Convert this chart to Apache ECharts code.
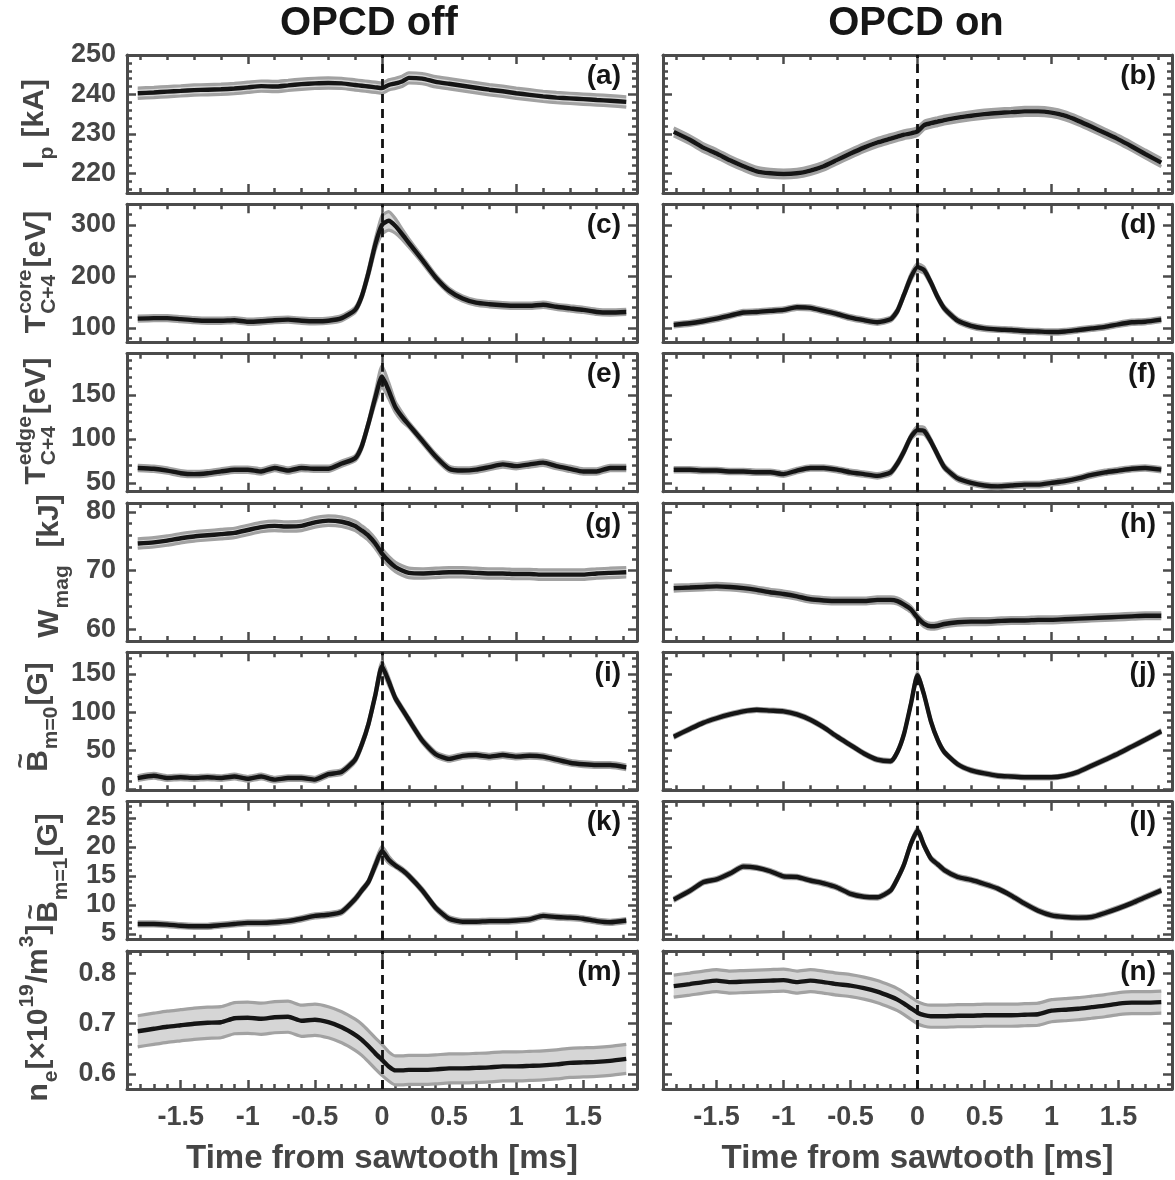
<!DOCTYPE html>
<html><head><meta charset="utf-8">
<script src="https://cdn.jsdelivr.net/npm/echarts@6/dist/echarts.min.js"></script>
<style>html,body{margin:0;padding:0;background:#fff}#c{width:1175px;height:1180px}</style>
</head><body><div id="c"></div>
<script>
// ---------------- DATA ----------------
const time = [-1.82,-1.7,-1.6,-1.5,-1.4,-1.3,-1.2,-1.1,-1.0,-0.9,-0.8,-0.7,-0.6,-0.5,-0.4,-0.3,-0.2,-0.15,-0.1,-0.05,0,0.05,0.1,0.15,0.2,0.3,0.4,0.5,0.6,0.7,0.8,0.9,1.0,1.1,1.2,1.3,1.4,1.5,1.6,1.7,1.82];

const ipOff = [240.3,240.5,240.7,240.9,241.1,241.2,241.3,241.5,241.8,242.1, 242.0,242.3,242.6,242.8,242.9,242.8,242.4,242.2,242.0,241.8, 241.6, 242.4,242.8,243.3, 244.2,244.0,243.2,242.7,242.2,241.7,241.2,240.8,240.3,239.9,239.5,239.2,239.0,238.8,238.6,238.4,238.1];
const ipOn = [230.5,228.5,226.5,225.0,223.3,221.8,220.5,220.0,219.8,220.0, 220.7,221.8,223.4,225.0,226.5,227.8,228.8,229.3,229.8,230.1, 230.6, 232.2,232.7,233.1, 233.5,234.1,234.6,235.0,235.3,235.5,235.7,235.7,235.4,234.6,233.3,231.8,230.2,228.6,226.8,224.9,222.7];
const tCoreOff = [118,119,119,117,115,114,114,115,112,113, 115,116,114,113,114,119,135,162,208,262, 300, 308,298,282, 265,232,198,172,157,149,146,144,143,143,145,141,138,135,131,130,131];
const tCoreOn = [106,109,113,118,124,130,131,133,135,140, 139,133,127,120,115,111,117,133,165,198, 218, 212,188,160, 138,114,104,99,97,96,94,93,92,93,96,99,102,107,111,112,116];
const tEdgeOff = [67,66,64,61,60,61,63,65,65,63, 67,64,67,66,66,72,78,92,118,147, 171, 155,136,125, 116,98,80,66,64,65,68,71,69,71,73,69,66,63,63,67,67];
const tEdgeOn = [65,65,64,64,63,63,62,62,60,64, 67,67,65,62,60,58,62,72,86,102, 110, 109,97,82, 68,55,50,47,46,47,48,48,50,52,55,59,62,64,66,67,65];
const wMagOff = [74.6,74.8,75.1,75.5,75.8,76.0,76.2,76.4,76.9,77.4, 77.6,77.5,77.6,78.2,78.5,78.3,77.6,76.8,75.9,74.6, 72.9, 71.6,70.6,70.0, 69.6,69.5,69.6,69.7,69.7,69.6,69.5,69.5,69.4,69.4,69.3,69.3,69.3,69.3,69.5,69.6,69.7];
const wMagOn = [67.0,67.1,67.2,67.3,67.2,67.0,66.7,66.3,66.0,65.6, 65.1,64.9,64.8,64.8,64.8,65.0,65.0,64.8,64.2,63.4, 62.0, 60.9,60.5,60.6, 60.9,61.2,61.3,61.3,61.4,61.5,61.5,61.6,61.6,61.7,61.8,61.9,62.0,62.1,62.2,62.3,62.3];
const bM0Off = [14,17,14,15,14,15,14,16,13,16, 12,14,14,12,19,22,38,58,85,122, 160, 140,118,104, 90,63,45,39,43,44,42,44,42,43,42,38,34,32,31,31,28];
const bM0On = [68,78,86,92,97,101,103,102,101,97, 90,80,68,57,46,38,36,48,72,110, 148, 122,88,64, 48,32,24,20,17,16,15,15,15,17,22,30,38,46,55,64,75];
const bM1Off = [6.7,6.7,6.6,6.4,6.3,6.3,6.5,6.7,6.9,6.9, 7.0,7.2,7.6,8.1,8.3,8.8,11.0,12.5,14.0,16.8, 19.3, 17.8,16.8,16.0, 15.0,12.5,9.5,7.6,7.1,7.1,7.2,7.2,7.3,7.5,8.1,7.9,7.8,7.6,7.2,7.0,7.3];
const bM1On = [10.9,12.4,13.9,14.4,15.4,16.6,16.4,15.8,14.9,14.8, 14.2,13.7,13.0,11.9,11.4,11.3,12.5,14.5,17.0,20.5, 22.8, 20.2,18.0,17.0, 16.0,14.8,14.3,13.6,12.8,11.6,10.2,9.0,8.2,7.9,7.8,7.9,8.6,9.4,10.3,11.3,12.5];
const neOff = [0.685,0.690,0.694,0.697,0.700,0.702,0.703,0.711,0.712,0.710, 0.713,0.714,0.706,0.708,0.703,0.693,0.678,0.668,0.655,0.641, 0.628, 0.615,0.607,0.607, 0.608,0.608,0.609,0.611,0.611,0.612,0.613,0.615,0.615,0.616,0.617,0.619,0.622,0.623,0.624,0.626,0.630];
const neOn = [0.775,0.779,0.783,0.786,0.783,0.784,0.785,0.786,0.787,0.783, 0.786,0.783,0.779,0.776,0.771,0.764,0.754,0.748,0.740,0.731, 0.722, 0.717,0.715,0.715, 0.715,0.716,0.716,0.717,0.717,0.717,0.718,0.719,0.726,0.728,0.730,0.733,0.736,0.740,0.742,0.742,0.743];

// error half-widths
const errIpOff = [1.3,1.3,1.3,1.3,1.3,1.3,1.3,1.3,1.3,1.3, 1.3,1.3,1.3,1.3,1.3,1.3,1.3,1.3,1.3,1.3, 1.3, 1.3,1.3,1.3, 1.3,1.3,1.3,1.3,1.3,1.3,1.3,1.3,1.3,1.3,1.3,1.3,1.3,1.3,1.3,1.3,1.3];
const errIpOn = [1.0,1.0,1.0,1.0,1.0,1.0,1.0,1.0,1.0,1.0, 1.0,1.0,1.0,1.0,1.0,1.0,1.0,1.0,1.0,1.0, 1.0, 1.0,1.0,1.0, 1.0,1.0,1.0,1.0,1.0,1.0,1.0,1.0,1.0,1.0,1.0,1.0,1.0,1.0,1.0,1.0,1.0];
const errTCoreOff = [5,5,5,5,5,5,5,5,5,5, 5,5,5,5,5,5,5,5,7,10, 18, 18,14,10, 8,6,5,5,5,5,5,5,5,5,5,5,5,5,5,5,5];
const errTCoreOn = [4,4,4,4,4,4,4,4,4,4, 4,4,4,4,4,4,4,4,4,6, 7, 6,4,4, 4,4,4,4,4,4,4,4,4,4,4,4,4,4,4,4,4];
const errTEdgeOff = [3,3,3,3,3,3,3,3,3,3, 3,3,3,3,3,3,3,3,3,6, 12, 9,6,5, 3,3,3,3,3,3,3,3,3,3,3,3,3,3,3,3,3];
const errTEdgeOn = [2.5,2.5,2.5,2.5,2.5,2.5,2.5,2.5,2.5,2.5, 2.5,2.5,2.5,2.5,2.5,2.5,2.5,2.5,2.5,2.5, 4, 4,2.5,2.5, 2.5,2.5,2.5,2.5,2.5,2.5,2.5,2.5,2.5,2.5,2.5,2.5,2.5,2.5,2.5,2.5,2.5];
const errWMagOff = [0.8,0.8,0.8,0.8,0.8,0.8,0.8,0.8,0.8,0.8, 0.8,0.8,0.8,0.8,0.8,0.8,0.8,0.8,0.8,0.8, 0.8, 0.8,0.8,0.8, 0.8,0.8,0.8,0.8,0.8,0.8,0.8,0.8,0.8,0.8,0.8,0.8,0.8,0.8,0.8,0.8,0.8];
const errWMagOn = [0.5,0.5,0.5,0.5,0.5,0.5,0.5,0.5,0.5,0.5, 0.5,0.5,0.5,0.5,0.5,0.5,0.5,0.5,0.5,0.5, 0.5, 0.5,0.5,0.5, 0.5,0.5,0.5,0.5,0.5,0.5,0.5,0.5,0.5,0.5,0.5,0.5,0.5,0.5,0.5,0.5,0.5];
const errBM0Off = [3,3,3,3,3,3,3,3,3,3, 3,3,3,3,3,3,3,3,3,3, 6, 5,3,3, 3,3,3,3,3,3,3,3,3,3,3,3,3,3,3,3,3];
const errBM0On = [2,2,2,2,2,2,2,2,2,2, 2,2,2,2,2,2,2,2,2,2, 4, 2,2,2, 2,2,2,2,2,2,2,2,2,2,2,2,2,2,2,2,2];
const errBM1Off = [0.35,0.35,0.35,0.35,0.35,0.35,0.35,0.35,0.35,0.35, 0.35,0.35,0.35,0.35,0.35,0.35,0.35,0.35,0.35,0.6, 0.8, 0.6,0.35,0.35, 0.35,0.35,0.35,0.35,0.35,0.35,0.35,0.35,0.35,0.35,0.35,0.35,0.35,0.35,0.35,0.35,0.35];
const errBM1On = [0.3,0.3,0.3,0.3,0.3,0.3,0.3,0.3,0.3,0.3, 0.3,0.3,0.3,0.3,0.3,0.3,0.3,0.3,0.3,0.3, 0.5, 0.3,0.3,0.3, 0.3,0.3,0.3,0.3,0.3,0.3,0.3,0.3,0.3,0.3,0.3,0.3,0.3,0.3,0.3,0.3,0.3];
const errNeOff = [0.031,0.031,0.031,0.031,0.031,0.031,0.031,0.031,0.031,0.031, 0.031,0.031,0.031,0.031,0.031,0.031,0.031,0.031,0.031,0.031, 0.031, 0.029,0.029,0.029, 0.029,0.029,0.029,0.029,0.029,0.029,0.029,0.029,0.029,0.029,0.029,0.029,0.029,0.029,0.029,0.029,0.029];
const errNeOn = [0.022,0.022,0.022,0.022,0.022,0.022,0.022,0.022,0.022,0.022, 0.022,0.022,0.022,0.022,0.022,0.022,0.022,0.022,0.022,0.022, 0.022, 0.022,0.022,0.022, 0.022,0.022,0.022,0.022,0.022,0.022,0.022,0.022,0.022,0.022,0.022,0.022,0.022,0.022,0.022,0.022,0.022];

// tick values
const xTicksBottom = [-1.5,-1,-0.5,0,0.5,1,1.5];
const xMinorBottom = [-1.8,-1.7,-1.6,-1.5,-1.4,-1.3,-1.2,-1.1,-1,-0.9,-0.8,-0.7,-0.6,-0.5,-0.4,-0.3,-0.2,-0.1,0,0.1,0.2,0.3,0.4,0.5,0.6,0.7,0.8,0.9,1,1.1,1.2,1.3,1.4,1.5,1.6,1.7,1.8];
const xTicksInner = [-1,0,1];
const xMinorInner = [-1.8,-1.6,-1.4,-1.2,-1,-0.8,-0.6,-0.4,-0.2,0,0.2,0.4,0.6,0.8,1,1.2,1.4,1.6,1.8];

const yTicksIp = [220,230,240,250];
const yMinorIp = [216,218,220,222,224,226,228,230,232,234,236,238,240,242,244,246,248,250];
const yTicksTCore = [100,200,300];
const yMinorTCore = [80,100,120,140,160,180,200,220,240,260,280,300,320,340];
const yTicksTEdge = [50,100,150];
const yMinorTEdge = [40,50,60,70,80,90,100,110,120,130,140,150,160,170,180,190];
const yTicksWMag = [60,70,80];
const yMinorWMag = [58,60,62,64,66,68,70,72,74,76,78,80];
const yTicksBM0 = [0,50,100,150];
const yMinorBM0 = [0,10,20,30,40,50,60,70,80,90,100,110,120,130,140,150,160,170];
const yTicksBM1 = [5,10,15,20,25];
const yMinorBM1 = [4,5,6,7,8,9,10,11,12,13,14,15,16,17,18,19,20,21,22,23,24,25,26,27];
const yTicksNe = [0.6,0.7,0.8];
const yMinorNe = [0.58,0.6,0.62,0.64,0.66,0.68,0.7,0.72,0.74,0.76,0.78,0.8,0.82,0.84];

const panelLetters = ['(a)','(b)','(c)','(d)','(e)','(f)','(g)','(h)','(i)','(j)','(k)','(l)','(m)','(n)'];
const columnTitles = ['OPCD off','OPCD on'];
const xAxisTitle = 'Time from sawtooth [ms]';

// ---------------- PANELS ----------------
const rows = [
  {yMin:215, yMax:250,  ticks:yTicksIp,    minor:yMinorIp,    series:[[ipOff,errIpOff],[ipOn,errIpOn]]},
  {yMin:72,  yMax:340,  ticks:yTicksTCore, minor:yMinorTCore, series:[[tCoreOff,errTCoreOff],[tCoreOn,errTCoreOn]]},
  {yMin:40,  yMax:197,  ticks:yTicksTEdge, minor:yMinorTEdge, series:[[tEdgeOff,errTEdgeOff],[tEdgeOn,errTEdgeOn]]},
  {yMin:58,  yMax:81.5, ticks:yTicksWMag,  minor:yMinorWMag,  series:[[wMagOff,errWMagOff],[wMagOn,errWMagOn]]},
  {yMin:-2,  yMax:178,  ticks:yTicksBM0,   minor:yMinorBM0,   series:[[bM0Off,errBM0Off],[bM0On,errBM0On]]},
  {yMin:4,   yMax:27.8, ticks:yTicksBM1,   minor:yMinorBM1,   series:[[bM1Off,errBM1Off],[bM1On,errBM1On]]},
  {yMin:0.57,yMax:0.845,ticks:yTicksNe,    minor:yMinorNe,    series:[[neOff,errNeOff],[neOn,errNeOn]]}
];

const FONT = '"Liberation Sans", Arial, sans-serif';
const AX = '#4b4b4b';
const TXT = '#454545';

const option = {animation:false, backgroundColor:'#ffffff', grid:[], xAxis:[], yAxis:[], series:[], graphic:[]};

const GLEFT = [127, 663], GW = [510, 509], GTOP = 55, GPITCH = 149.33, GH = 138;

function tickAxis(base, pos, values, len, showLine, label) {
  return Object.assign({}, base, {
    position: pos,
    axisLine: {show: showLine, onZero: false, lineStyle: {color: AX, width: 3}},
    axisTick: {show: true, inside: true, length: len, customValues: values, lineStyle: {color: AX, width: 2.5}},
    axisLabel: label ? Object.assign({customValues: values}, label) : {show: false},
    splitLine: {show: false}
  });
}

let gi = 0;
rows.forEach((row, r) => {
  const last = r === rows.length - 1;
  for (let c = 0; c < 2; c++) {
    const top = GTOP + r * GPITCH;
    option.grid.push({left: GLEFT[c], top: top, width: GW[c], height: GH});
    const xb = {type: 'value', gridIndex: gi, min: -1.9, max: 1.9};
    const xLab = last ? {show: true, fontSize: 27, fontWeight: 'bold', fontFamily: FONT, color: TXT, margin: 15} : null;
    option.xAxis.push(tickAxis(xb, 'bottom', last ? xTicksBottom : xTicksInner, 9, true, xLab));
    option.xAxis.push(tickAxis(xb, 'bottom', last ? xMinorBottom : xMinorInner, 5, false, null));
    option.xAxis.push(tickAxis(xb, 'top', xTicksInner, 9, true, null));
    option.xAxis.push(tickAxis(xb, 'top', xMinorInner, 5, false, null));
    const yb = {type: 'value', gridIndex: gi, min: row.yMin, max: row.yMax};
    const yLab = c === 0 ? {show: true, fontSize: 27, fontWeight: 'bold', fontFamily: FONT, color: TXT, margin: 11} : null;
    option.yAxis.push(tickAxis(yb, 'left', row.ticks, 9, true, yLab));
    option.yAxis.push(tickAxis(yb, 'left', row.minor, 5, false, null));
    option.yAxis.push(tickAxis(yb, 'right', row.ticks, 9, true, null));
    option.yAxis.push(tickAxis(yb, 'right', row.minor, 5, false, null));

    const mean = row.series[c][0], err = row.series[c][1];
    const up = mean.map((v, k) => v + err[k]);
    const lo = mean.map((v, k) => v - err[k]);
    const xi = gi * 4, yi = gi * 4;
    option.series.push({
      type: 'custom', xAxisIndex: xi, yAxisIndex: yi, silent: true, z: 1, clip: true,
      data: [[0, mean[20]]],
      renderItem: (params, api) => {
        const pts = [];
        for (let k = 0; k < time.length; k++) pts.push(api.coord([time[k], up[k]]));
        for (let k = time.length - 1; k >= 0; k--) pts.push(api.coord([time[k], lo[k]]));
        return {type: 'polygon', shape: {points: pts}, style: {fill: '#d6d6d6', stroke: null}};
      }
    });
    [up, lo].forEach(arr => option.series.push({
      type: 'line', xAxisIndex: xi, yAxisIndex: yi, silent: true, z: 2,
      data: time.map((t, k) => [t, arr[k]]), showSymbol: false, symbol: 'none', smooth: 0.2,
      lineStyle: {color: '#a2a2a2', width: 3.2}
    }));
    option.series.push({
      type: 'line', xAxisIndex: xi, yAxisIndex: yi, silent: true, z: 3,
      data: time.map((t, k) => [t, mean[k]]), showSymbol: false, symbol: 'none', smooth: 0.2,
      lineStyle: {color: '#151515', width: 4.4},
      markLine: {silent: true, symbol: ['none', 'none'], label: {show: false},
        lineStyle: {color: '#111', width: 2.8, type: [9, 6]}, data: [{xAxis: 0}]}
    });
    option.graphic.push({type: 'text', x: GLEFT[c] + GW[c] - 16, y: top + 21,
      style: {text: panelLetters[gi], fontSize: 28, fontWeight: 'bold', fontFamily: FONT, fill: '#151515',
        textAlign: 'right', align: 'right', textVerticalAlign: 'middle', verticalAlign: 'middle'}});
    gi++;
  }
});

// column titles and x-axis titles
const titleX = [369, 916];
[0, 1].forEach(c => {
  const cx = GLEFT[c] + GW[c] / 2;
  option.graphic.push({type: 'text', x: titleX[c], y: 24, style: {text: columnTitles[c], fontSize: 40, fontWeight: 'bold', fontFamily: FONT, fill: '#161616', textAlign: 'center', align: 'center', textVerticalAlign: 'middle', verticalAlign: 'middle'}});
  option.graphic.push({type: 'text', x: cx, y: 1159, style: {text: xAxisTitle, fontSize: 33, fontWeight: 'bold', fontFamily: FONT, fill: TXT, textAlign: 'center', align: 'center', textVerticalAlign: 'middle', verticalAlign: 'middle'}});
});

// y-axis labels with sub/superscripts (rotated)
const ctx = document.createElement('canvas').getContext('2d');
function tw(s, size) { ctx.font = 'bold ' + size + 'px ' + FONT; return ctx.measureText(s).width; }
const M = 30, S = 21;
function yLabel(cy, base, parts) {
  const items = []; let L = 0;
  parts.forEach(p => {
    if (p.n !== undefined) {
      const w = tw(p.n, M);
      items.push({t: p.n, size: M, x: L, mid: base - 0.35 * M});
      if (p.tilde) items.push({t: '~', size: 26, x: L + w / 2, mid: base - 0.72 * M - 6, align: 'center'});
      L += w;
    } else if (p.b !== undefined && p.p !== undefined) {
      const w1 = tw(p.p, S), w2 = tw(p.b, S);
      items.push({t: p.p, size: S, x: L + 1, mid: base - 14 - 0.35 * S});
      items.push({t: p.b, size: S, x: L + 1, mid: base + 10 - 0.35 * S});
      L += Math.max(w1, w2) + 3;
    } else if (p.b !== undefined) {
      const w = tw(p.b, S);
      items.push({t: p.b, size: S, x: L + 1, mid: base + 10 - 0.35 * S});
      L += w + 2;
    } else if (p.p !== undefined) {
      const w = tw(p.p, S);
      items.push({t: p.p, size: S, x: L + 1, mid: base - 14 - 0.35 * S});
      L += w + 2;
    }
  });
  return {type: 'group', x: 0, y: cy, rotation: Math.PI / 2,
    children: items.map(it => ({type: 'text', style: {text: it.t, x: it.x - L / 2, y: it.mid,
      fontSize: it.size, fontWeight: 'bold', fontFamily: FONT, fill: TXT,
      textAlign: it.align || 'left', align: it.align || 'left', textVerticalAlign: 'middle', verticalAlign: 'middle'}}))};
}
option.graphic.push(yLabel(124, 45, [{n: 'I'}, {b: 'p'}, {n: ' [kA]'}]));
option.graphic.push(yLabel(272, 47, [{n: 'T'}, {p: 'core', b: 'C+4'}, {n: '[eV]'}]));
option.graphic.push(yLabel(421, 47, [{n: 'T'}, {p: 'edge', b: 'C+4'}, {n: '[eV]'}]));
option.graphic.push(yLabel(566, 60, [{n: 'W'}, {b: 'mag'}, {n: '  [kJ]'}]));
option.graphic.push(yLabel(717, 49, [{n: 'B', tilde: true}, {b: 'm=0'}, {n: '[G]'}]));
option.graphic.push(yLabel(868, 59, [{n: 'B', tilde: true}, {b: 'm=1'}, {n: '[G]'}]));
option.graphic.push(yLabel(1013, 49, [{n: 'n'}, {b: 'e'}, {n: '[×10'}, {p: '19'}, {n: '/m'}, {p: '3'}, {n: ']'}]));

const chart = echarts.init(document.getElementById('c'), null, {renderer: 'canvas'});
chart.setOption(option);
</script>
</body></html>
